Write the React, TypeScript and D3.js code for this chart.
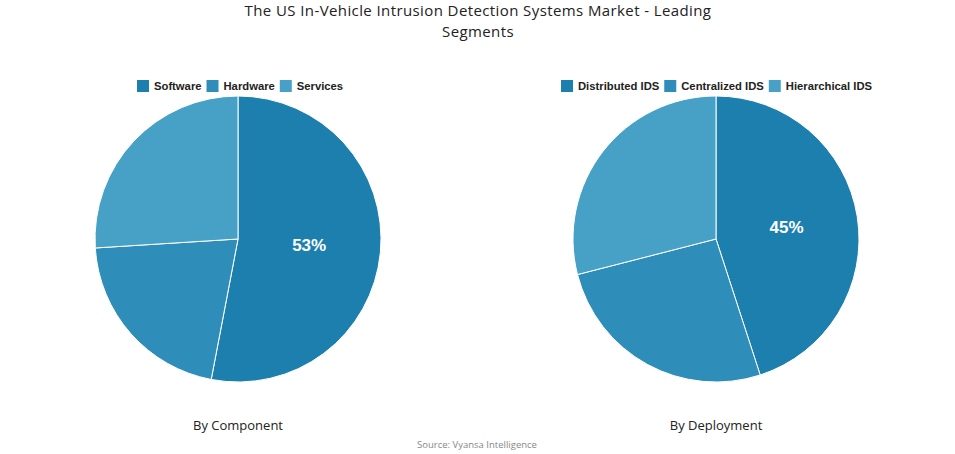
import React from "react";
import * as d3 from "d3";

const componentLabels = ["Software", "Hardware", "Services"];
const componentValues = [53, 21, 26];
const deploymentLabels = ["Distributed IDS", "Centralized IDS", "Hierarchical IDS"];
const deploymentValues = [45, 26, 29];
const sliceColors = ["#1d7fae", "#2f8dba", "#47a1c6"];
const titleLines = ["The US In-Vehicle Intrusion Detection Systems Market - Leading", "Segments"];

const W = 955;
const H = 454;
const R = 143;
const LEGEND_FONT = "'Liberation Sans', Arial, sans-serif";
const LEGEND_SIZE = 11.25;

type PieProps = {
  cx: number;
  cy: number;
  labels: string[];
  values: number[];
  caption: string;
  legendX: number;
};

function Pie({ cx, cy, labels, values, caption, legendX }: PieProps) {
  const pie = d3.pie<number>().sort(null).value((d) => d);
  const arcs = pie(values);
  const arc = d3.arc<d3.PieArcDatum<number>>().innerRadius(0).outerRadius(R);
  const total = d3.sum(values);

  // Legend items laid out horizontally with measured text widths
  const canvas = typeof document !== "undefined" ? document.createElement("canvas") : null;
  const ctx = canvas ? canvas.getContext("2d") : null;
  if (ctx) ctx.font = `bold ${LEGEND_SIZE}px ${LEGEND_FONT}`;
  let x = legendX;
  const items = labels.map((l, i) => {
    const w = ctx ? ctx.measureText(l).width : l.length * 7;
    const item = { x, label: l, color: sliceColors[i] };
    x += 17 + w + 5;
    return item;
  });

  return (
    <g>
      {items.map((it) => (
        <g key={it.label}>
          <rect x={it.x} y={80} width={12} height={12} fill={it.color} />
          <text
            x={it.x + 17}
            y={90}
            fontFamily={LEGEND_FONT}
            fontWeight="bold"
            fontSize={LEGEND_SIZE}
            fill="#222"
          >
            {it.label}
          </text>
        </g>
      ))}
      <g transform={`translate(${cx},${cy})`}>
        {arcs.map((a, i) => (
          <path key={i} d={arc(a) || ""} fill={sliceColors[i]} stroke="#ffffff" strokeWidth={1} />
        ))}
        {arcs.slice(0, 1).map((a, i) => {
          const [lx, ly] = arc.centroid(a);
          return (
            <text
              key={i}
              x={lx}
              y={ly}
              textAnchor="middle"
              dominantBaseline="central"
              fontFamily={LEGEND_FONT}
              fontWeight="bold"
              fontSize={17}
              fill="#ffffff"
            >
              {Math.round((a.data / total) * 100)}%
            </text>
          );
        })}
      </g>
      <text
        x={cx}
        y={430}
        textAnchor="middle"
        fontFamily="'Open Sans', sans-serif"
        fontSize={13}
        fill="#222"
      >
        {caption}
      </text>
    </g>
  );
}

export default function App() {
  return (
    <svg width={W} height={H} style={{ position: "absolute", left: 0, top: 0 }}>
      <rect width={W} height={H} fill="#ffffff" />
      {titleLines.map((line, i) => (
        <text
          key={i}
          x={478}
          y={16 + i * 21}
          textAnchor="middle"
          fontFamily="'Open Sans', sans-serif"
          fontSize={15}
          letterSpacing={0.4}
          fill="#222"
        >
          {line}
        </text>
      ))}
      <Pie
        cx={238}
        cy={239}
        labels={componentLabels}
        values={componentValues}
        caption="By Component"
        legendX={137}
      />
      <Pie
        cx={716}
        cy={239}
        labels={deploymentLabels}
        values={deploymentValues}
        caption="By Deployment"
        legendX={561}
      />
      <text
        x={477}
        y={448}
        textAnchor="middle"
        fontFamily="'Open Sans', sans-serif"
        fontSize={9.5}
        fill="#888"
      >
        Source: Vyansa Intelligence
      </text>
    </svg>
  );
}
